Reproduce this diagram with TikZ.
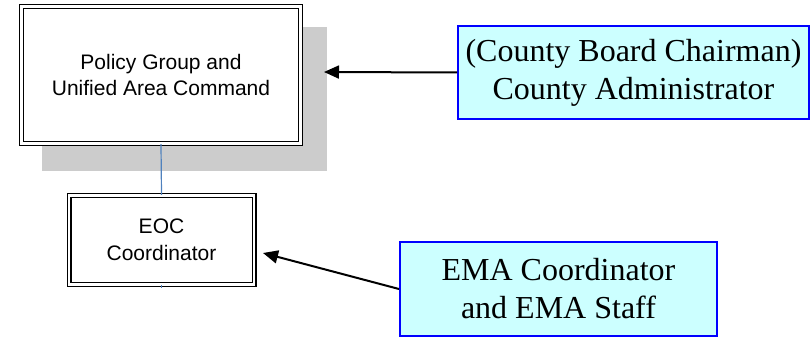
\documentclass[tikz,border=0pt]{standalone}
\usepackage{fontspec}
\setmainfont{Liberation Serif}
\setsansfont{Liberation Sans}
\usetikzlibrary{calc, arrows.meta, positioning}
\definecolor{eocblue}{HTML}{0000FF}
\definecolor{eoccyan}{HTML}{CCFFFF}
\definecolor{eocgray}{HTML}{CCCCCC}
\definecolor{eoclink}{HTML}{4F81BD}

\begin{document}
\begin{tikzpicture}[x=1pt, y=-1pt,
    dblbox/.style={draw, double, line width=1.3pt, double distance=2.4pt, fill=white,
        font=\sffamily\fontsize{21}{26.5}\selectfont, align=center, inner sep=0pt},
    cyanbox/.style={draw=eocblue, line width=2pt, fill=eoccyan,
        font=\rmfamily\fontsize{32}{38}\selectfont, align=center, inner sep=0pt},
    pointer/.style={-{Triangle[length=15pt,width=13pt]}, line width=2pt},
    link/.style={draw=eoclink, line width=1.2pt}]
            \useasboundingbox (0,0) rectangle (811,339);

            % Shadow behind the policy group
            \fill[eocgray] (42,27) rectangle (327,171);

            % Boxes on the left
            \node[dblbox, minimum width=279pt, minimum height=137pt] (policy) at (161,75)
                {Policy Group and\\Unified Area Command};
            \node[dblbox, minimum width=185pt, minimum height=89pt] (eoc) at (161.5,240)
                {EOC\\Coordinator};

            % Boxes on the right
            \node[cyanbox, minimum width=351pt, minimum height=93pt] (admin) at (633.5,72.5)
                {(County Board Chairman)\\County Administrator};
            \node[cyanbox, minimum width=317pt, minimum height=94pt] (ema) at (558.5,289)
                {EMA Coordinator\\and EMA Staff};

            % Links
            \draw[link] (policy.south) -- (eoc.north);
            \draw[link] (eoc.south) -- ++(0,3);

            % Arrows
            \coordinate (shadowtip) at (324,72);
            \coordinate (eoctip) at (263,253);
            \draw[pointer] (admin.west) -- (shadowtip);
            \draw[pointer] (ema.west) -- (eoctip);
        \end{tikzpicture}
\end{document}
